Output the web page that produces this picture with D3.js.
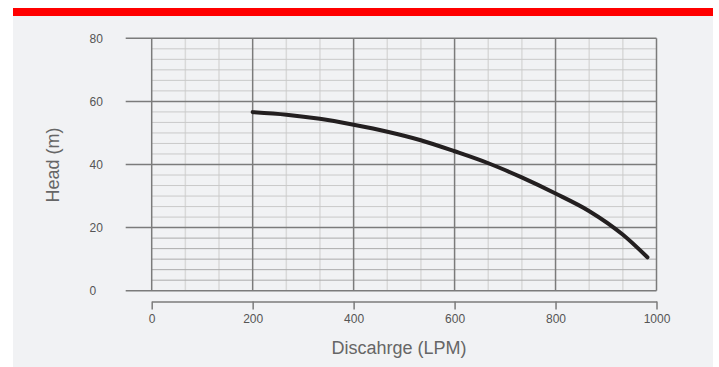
<!DOCTYPE html>
<html lang="en">
<head>
  <meta charset="UTF-8">
  <title>Pump curve</title>
  <style>
    html, body { margin: 0; padding: 0; background: #fff; }
    #main { width: 719px; height: 367px; }
    text { font-family: "Liberation Sans", Arial, Helvetica, sans-serif; }
  </style>
</head>
<body>
  <div id="main"></div>
  <script src="https://d3js.org/d3.v7.min.js"></script>
  <script>
    // data
    const flow = [200, 267, 333, 400, 467, 533, 600, 667, 733, 800, 867, 933, 982];
    const head = [56.6, 55.8, 54.5, 52.6, 50.4, 47.7, 44.2, 40.4, 35.9, 30.8, 25.2, 17.8, 10.6];
    const xTicks = [0, 200, 400, 600, 800, 1000];
    const yTicks = [0, 20, 40, 60, 80];
    const xTitle = 'Discahrge (LPM)';
    const yTitle = 'Head (m)';

    const [width, height] = [719, 367];
    const svg = d3.select('#main').append('svg')
      .attr('width', width)
      .attr('height', height);

    // panel + red strip
    svg.append('rect').attr('x', 13).attr('y', 8).attr('width', 700).attr('height', 359).attr('fill', '#f1f2f4');
    svg.append('rect').attr('x', 13).attr('y', 8).attr('width', 700).attr('height', 8).attr('fill', '#ff0000');

    const x = d3.scaleLinear().domain([0, 1000]).range([151.7, 656.5]);
    const y = d3.scaleLinear().domain([0, 80]).range([290.7, 38.3]);

    const grid = svg.append('g');

    // minor verticals: 3 per 200
    const xMinor = d3.range(0, 1000, 200 / 3).filter(v => Math.abs(v / 200 - Math.round(v / 200)) > 0.01);
    grid.selectAll('.vmin').data(xMinor).join('line')
      .attr('x1', d => x(d)).attr('x2', d => x(d))
      .attr('y1', y(80)).attr('y2', y(0))
      .attr('stroke', '#d9d9d9').attr('stroke-width', 1.5);

    // minor horizontals: 6 per 20
    const yMinor = d3.range(0, 80, 20 / 6).filter(v => Math.abs(v / 20 - Math.round(v / 20)) > 0.01);
    grid.selectAll('.hmin').data(yMinor).join('line')
      .attr('x1', x(0)).attr('x2', x(1000))
      .attr('y1', d => y(d)).attr('y2', d => y(d))
      .attr('stroke', d => d < 20 ? '#ababab' : '#c9c9c9').attr('stroke-width', 1);

    // major verticals
    grid.selectAll('.vmaj').data(xTicks).join('line')
      .attr('x1', d => x(d)).attr('x2', d => x(d))
      .attr('y1', y(80)).attr('y2', y(0))
      .attr('stroke', '#7b7b7b').attr('stroke-width', 1.5);

    // major horizontals, sticking out to the left
    grid.selectAll('.hmaj').data(yTicks).join('line')
      .attr('x1', 125.7).attr('x2', x(1000))
      .attr('y1', d => y(d)).attr('y2', d => y(d))
      .attr('stroke', '#7b7b7b').attr('stroke-width', 1.5);

    // y labels
    svg.append('g').selectAll('text').data(yTicks).join('text')
      .attr('x', 89.5).attr('y', d => y(d)).attr('dy', '0.35em')
      .attr('font-size', 12).attr('fill', '#555')
      .text(d => d);

    // x axis below the grid
    const xAxis = d3.axisBottom(x).tickValues(xTicks).tickFormat(d3.format('d'))
      .tickSize(8).tickSizeOuter(0).tickPadding(5);
    const gx = svg.append('g')
      .attr('transform', 'translate(0,301.5)')
      .call(xAxis);
    gx.select('.domain').attr('stroke', '#7b7b7b').attr('stroke-width', 1.5);
    gx.selectAll('.tick line').attr('stroke', '#7b7b7b').attr('stroke-width', 1.5);
    gx.selectAll('.tick text').attr('font-size', 12).attr('fill', '#555')
      .attr('font-family', '"Liberation Sans", Arial, sans-serif');

    // titles
    svg.append('text').attr('x', 399).attr('y', 354)
      .attr('text-anchor', 'middle').attr('font-size', 18).attr('fill', '#666')
      .text(xTitle);
    svg.append('text')
      .attr('transform', 'translate(59,165) rotate(-90)')
      .attr('text-anchor', 'middle').attr('font-size', 18).attr('fill', '#666')
      .text(yTitle);

    // the curve
    const line = d3.line()
      .x((d, i) => x(flow[i]))
      .y(d => y(d))
      .curve(d3.curveMonotoneX);
    svg.append('path')
      .datum(head)
      .attr('d', line)
      .attr('fill', 'none')
      .attr('stroke', '#231f20')
      .attr('stroke-width', 4)
      .attr('stroke-linecap', 'round');
  </script>
</body>
</html>
